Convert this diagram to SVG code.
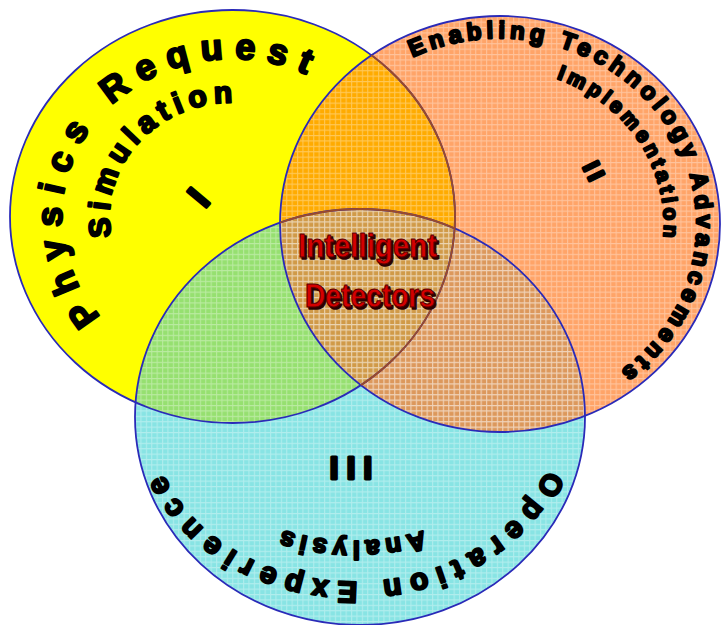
<svg xmlns="http://www.w3.org/2000/svg" xmlns:xlink="http://www.w3.org/1999/xlink" width="721" height="625" viewBox="0 0 721 625">
<style>
.lbl{font-family:"Liberation Sans",Arial,sans-serif;font-weight:bold;fill:#000;stroke:#000;stroke-width:2.2;stroke-linejoin:round;}
.num{font-family:"Liberation Sans",Arial,sans-serif;font-weight:bold;fill:#000;stroke:#000;stroke-width:3;stroke-linejoin:round;text-anchor:middle;}
.red{font-family:"Liberation Sans",Arial,sans-serif;font-weight:bold;font-size:34px;stroke-linejoin:round;}
.edge{fill:none;stroke:#2a2ab8;stroke-width:1.8;}
.edge2{fill:none;stroke:#9a4a2a;stroke-width:1.8;}
</style>
<defs>
<clipPath id="cY"><ellipse cx="232.5" cy="216.5" rx="222.5" ry="206.5"/></clipPath>
<clipPath id="cO"><ellipse cx="500" cy="224" rx="220" ry="208"/></clipPath>
<clipPath id="cC"><ellipse cx="360" cy="417" rx="225" ry="208"/></clipPath>
<pattern id="grid" patternUnits="userSpaceOnUse" width="5.4" height="5.4">
<path d="M0 0.6H5.4M0.6 0V5.4" stroke="#ffffff" stroke-opacity="0.35" stroke-width="1" fill="none"/>
</pattern>
<path id="pY1" d="M 111.9 327.9 A 170.6 157.6 0 0 1 330.4 87.4"/>
<path id="pY2" d="M 113.7 246.0 A 123 114 0 0 1 253.9 104.2"/>
<path id="pO1" d="M 387.0 71.6 A 197 186 0 1 1 598.5 385.1"/>
<path id="pO2" d="M 528.5 71.4 A 164 155 0 0 1 658.4 264.1"/>
<path id="pC1" d="M 553.9 445.7 A 203 165 0 0 1 154.1 445.7"/>
<path id="pC2" d="M 440.5 524.4 A 173 124 0 0 1 267.5 524.4"/>
</defs>
<rect width="721" height="625" fill="#ffffff"/>
<g id="fills">
<ellipse cx="500" cy="224" rx="220" ry="208" fill="#ffa468"/>
<ellipse cx="360" cy="417" rx="225" ry="208" fill="#88e4e4"/>
<ellipse cx="232.5" cy="216.5" rx="222.5" ry="206.5" fill="#ffff00"/>
<g clip-path="url(#cY)"><ellipse cx="500" cy="224" rx="220" ry="208" fill="#ffab00"/></g>
<g clip-path="url(#cY)"><ellipse cx="360" cy="417" rx="225" ry="208" fill="#96e070"/></g>
<g clip-path="url(#cO)"><ellipse cx="360" cy="417" rx="225" ry="208" fill="#dc985c"/></g>
<g clip-path="url(#cO)"><g clip-path="url(#cY)"><ellipse cx="360" cy="417" rx="225" ry="208" fill="#d09a48"/></g></g>
<g clip-path="url(#cO)"><rect width="721" height="625" fill="url(#grid)"/></g>
<g clip-path="url(#cC)"><rect width="721" height="625" fill="url(#grid)"/></g>
</g>
<g id="outlines">
<ellipse class="edge" cx="360" cy="417" rx="225" ry="208"/>
<ellipse class="edge" cx="232.5" cy="216.5" rx="222.5" ry="206.5"/>
<ellipse class="edge" cx="500" cy="224" rx="220" ry="208"/>
<g clip-path="url(#cO)"><ellipse class="edge2" cx="232.5" cy="216.5" rx="222.5" ry="206.5"/></g>
<g clip-path="url(#cO)"><g clip-path="url(#cY)"><ellipse class="edge2" cx="360" cy="417" rx="225" ry="208"/></g></g>
</g>
<g id="circle-I">
<text class="lbl" font-size="36" letter-spacing="11.1"><textPath xlink:href="#pY1" startOffset="15.7">Physics Request</textPath></text>
<text class="lbl" font-size="30" letter-spacing="5.9"><textPath xlink:href="#pY2" startOffset="9.5">Simulation</textPath></text>
<text class="num" font-size="36" transform="translate(198,197) rotate(-50)" y="12.9">I</text>
</g>
<g id="circle-II">
<text class="lbl" font-size="24" letter-spacing="4.65"><textPath xlink:href="#pO1" startOffset="29">Enabling Technology Advancements</textPath></text>
<text class="lbl" font-size="21" letter-spacing="3.9"><textPath xlink:href="#pO2" startOffset="29">Implementation</textPath></text>
<text class="num" font-size="24" letter-spacing="4.3" transform="translate(594,171) rotate(64)" x="2" y="8.6">II</text>
</g>
<g id="circle-III">
<text class="lbl" font-size="30" letter-spacing="8.2"><textPath xlink:href="#pC1" startOffset="25">Operation Experience</textPath></text>
<text class="lbl" font-size="26" letter-spacing="5.1"><textPath xlink:href="#pC2" startOffset="18.3">Analysis</textPath></text>
<text class="num" font-size="32" letter-spacing="8" transform="translate(351,468) rotate(180)" x="4" y="11.5">III</text>
</g>
<g id="center">
<text class="red" x="300" y="259" textLength="139" lengthAdjust="spacingAndGlyphs" fill="#2a0000" stroke="#2a0000" stroke-width="1.5">Intelligent</text>
<text class="red" x="298" y="257" textLength="139" lengthAdjust="spacingAndGlyphs" fill="#d40000" stroke="#5a0000" stroke-width="1">Intelligent</text>
<text class="red" x="307" y="309" textLength="130" lengthAdjust="spacingAndGlyphs" fill="#2a0000" stroke="#2a0000" stroke-width="1.5">Detectors</text>
<text class="red" x="305" y="307" textLength="130" lengthAdjust="spacingAndGlyphs" fill="#d40000" stroke="#5a0000" stroke-width="1">Detectors</text>
</g>
</svg>
